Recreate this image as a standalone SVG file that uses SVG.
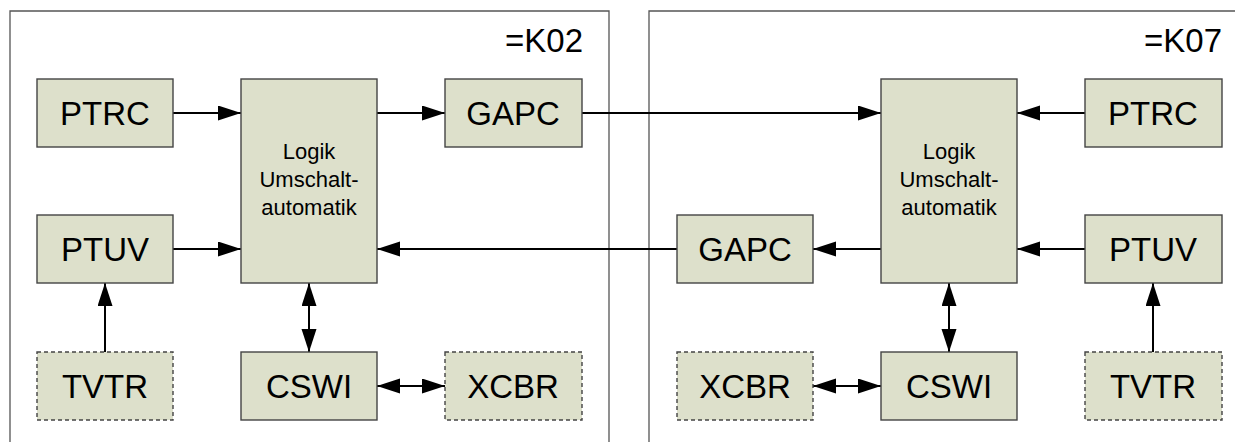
<svg xmlns="http://www.w3.org/2000/svg" width="1235" height="442" viewBox="0 0 1235 442">
  <style>
    .frame { fill: none; stroke: #555; stroke-width: 1.3; }
    .box { fill: #dde0cb; stroke: #444; stroke-width: 1.4; }
    .dash { stroke-dasharray: 4 3; }
    .lbl { font-family: "Liberation Sans", Arial, sans-serif; font-size: 33px; fill: #000; text-anchor: middle; }
    .small { font-family: "Liberation Sans", Arial, sans-serif; font-size: 22px; fill: #000; text-anchor: middle; }
    .tag { font-family: "Liberation Sans", Arial, sans-serif; font-size: 33px; fill: #000; text-anchor: end; }
    .wire { fill: none; stroke: #000; stroke-width: 2; }
    .one { marker-end: url(#arr); }
    .two { marker-start: url(#arr); marker-end: url(#arr); }
  </style>
  <defs>
    <marker id="arr" markerUnits="userSpaceOnUse" markerWidth="24" markerHeight="16" refX="23" refY="7.5" orient="auto-start-reverse">
      <path d="M0,0 L23,7.5 L0,15 z" fill="#000"/>
    </marker>
  </defs>
  <rect width="1235" height="442" fill="#fff"/>

  <!-- station frames -->
  <g id="frame-k02">
    <path class="frame" d="M10,445 V11 H609 V445"/>
    <text class="tag" x="583" y="52">=K02</text>
  </g>
  <g id="frame-k07">
    <path class="frame" d="M649,445 V11 H1240"/>
    <text class="tag" x="1222" y="52">=K07</text>
  </g>

  <!-- connectors -->
  <g id="connectors">
    <line class="wire one" x1="173" y1="113" x2="241" y2="113"/>
    <line class="wire one" x1="377" y1="113" x2="445" y2="113"/>
    <line class="wire one" x1="582" y1="113" x2="881" y2="113"/>
    <line class="wire one" x1="1085" y1="113" x2="1017" y2="113"/>
    <line class="wire one" x1="173" y1="249" x2="241" y2="249"/>
    <line class="wire one" x1="881" y1="249" x2="813" y2="249"/>
    <line class="wire one" x1="677" y1="249" x2="377" y2="249"/>
    <line class="wire one" x1="1085" y1="249" x2="1017" y2="249"/>
    <line class="wire one" x1="105" y1="352" x2="105" y2="283"/>
    <line class="wire one" x1="1153" y1="352" x2="1153" y2="283"/>
    <line class="wire two" x1="309" y1="283" x2="309" y2="352"/>
    <line class="wire two" x1="949" y1="283" x2="949" y2="352"/>
    <line class="wire two" x1="377" y1="386" x2="445" y2="386"/>
    <line class="wire two" x1="813" y1="386" x2="881" y2="386"/>
  </g>

  <!-- K02 nodes -->
  <g id="k02-ptrc"><rect class="box" x="37" y="79" width="136" height="68"/><text class="lbl" x="105" y="125">PTRC</text></g>
  <g id="k02-ptuv"><rect class="box" x="37" y="215" width="136" height="68"/><text class="lbl" x="105" y="261">PTUV</text></g>
  <g id="k02-tvtr"><rect class="box dash" x="37" y="352" width="136" height="68"/><text class="lbl" x="105" y="398">TVTR</text></g>
  <g id="k02-logik"><rect class="box" x="241" y="79" width="136" height="204"/>
    <text class="small" x="309" y="159">Logik</text>
    <text class="small" x="309" y="187">Umschalt-</text>
    <text class="small" x="309" y="215">automatik</text>
  </g>
  <g id="k02-cswi"><rect class="box" x="241" y="352" width="136" height="68"/><text class="lbl" x="309" y="398">CSWI</text></g>
  <g id="k02-gapc"><rect class="box" x="445" y="79" width="137" height="68"/><text class="lbl" x="513" y="125">GAPC</text></g>
  <g id="k02-xcbr"><rect class="box dash" x="445" y="352" width="137" height="68"/><text class="lbl" x="513" y="398">XCBR</text></g>

  <!-- K07 nodes -->
  <g id="k07-gapc"><rect class="box" x="677" y="215" width="136" height="68"/><text class="lbl" x="745" y="261">GAPC</text></g>
  <g id="k07-xcbr"><rect class="box dash" x="677" y="352" width="136" height="68"/><text class="lbl" x="745" y="398">XCBR</text></g>
  <g id="k07-logik"><rect class="box" x="881" y="79" width="136" height="204"/>
    <text class="small" x="949" y="159">Logik</text>
    <text class="small" x="949" y="187">Umschalt-</text>
    <text class="small" x="949" y="215">automatik</text>
  </g>
  <g id="k07-cswi"><rect class="box" x="881" y="352" width="136" height="68"/><text class="lbl" x="949" y="398">CSWI</text></g>
  <g id="k07-ptrc"><rect class="box" x="1085" y="79" width="137" height="68"/><text class="lbl" x="1153" y="125">PTRC</text></g>
  <g id="k07-ptuv"><rect class="box" x="1085" y="215" width="137" height="68"/><text class="lbl" x="1153" y="261">PTUV</text></g>
  <g id="k07-tvtr"><rect class="box dash" x="1085" y="352" width="137" height="68"/><text class="lbl" x="1153" y="398">TVTR</text></g>
</svg>
